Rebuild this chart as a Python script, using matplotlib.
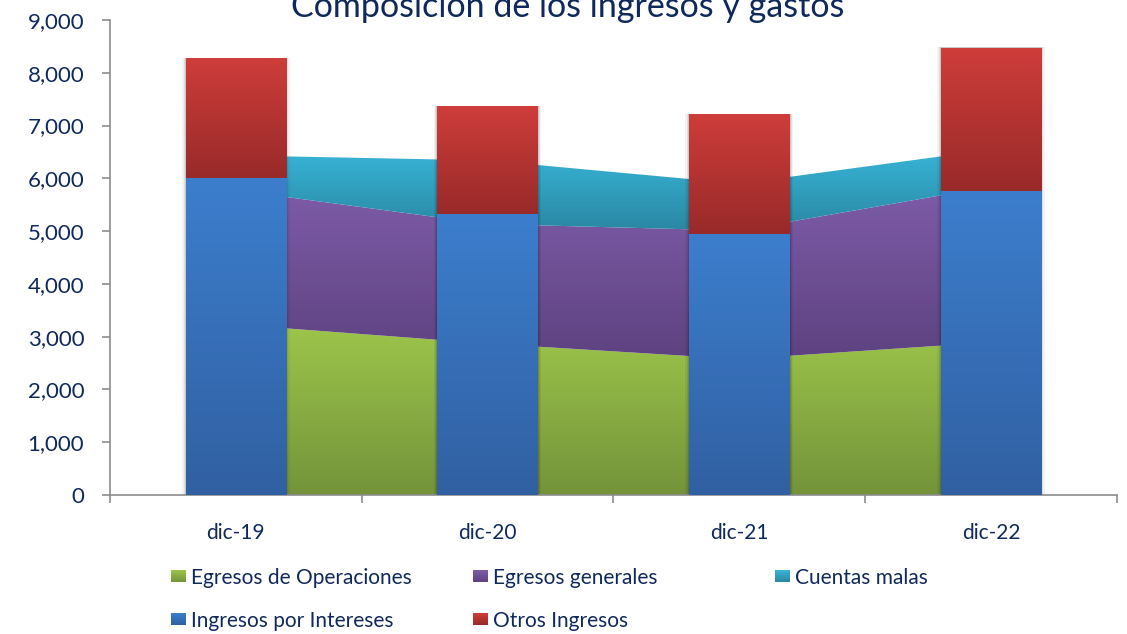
import numpy as np
import matplotlib
matplotlib.use("Agg")
import matplotlib.pyplot as plt
import matplotlib.colors as mcolors
from matplotlib.patches import Polygon, Rectangle
from matplotlib.ticker import FuncFormatter, FixedLocator

# -------------------- Data --------------------
periodos = ["dic-19", "dic-20", "dic-21", "dic-22"]

egresos_operaciones = [3230, 2870, 2575, 2895]
egresos_generales = [2545, 2265, 2435, 2950]
cuentas_malas = [660, 1205, 890, 700]

ingresos_intereses = [6005, 5320, 4940, 5770]
otros_ingresos = [2275, 2045, 2275, 2700]

titulo = "Composición de los ingresos y gastos"

# -------------------- Style --------------------
NAVY = "#10295C"
AXIS_GRAY = "#8C8C8C"
FONT = ["Lato", "DejaVu Sans"]

# (top colour, bottom colour) of each vertical gradient
C_EG_OP = ("#9DC64B", "#74933A")
C_EG_GEN = ("#7E5CA8", "#5D4280")
C_CUENTAS = ("#38B5D8", "#2A87A2")
C_INTERESES = ("#3C7ECD", "#3160A2")
C_OTROS = ("#CE3D3A", "#982A29")

plt.rcParams['font.family'] = FONT


def gradient(c_top, c_bot, n=256):
    top = np.array(mcolors.to_rgb(c_top))
    bot = np.array(mcolors.to_rgb(c_bot))
    t = np.linspace(0, 1, n)[:, None]
    return (top * (1 - t) + bot * t)[:, None, :]


def fill_grad(ax, patch, colors, z):
    """Fill a patch with a vertical gradient clipped to its outline."""
    patch.set_facecolor("none")
    patch.set_edgecolor("none")
    ax.add_patch(patch)
    if isinstance(patch, Polygon):
        verts = patch.get_path().vertices
        ext = [verts[:, 0].min(), verts[:, 0].max(), verts[:, 1].min(), verts[:, 1].max()]
    else:
        x0, y0 = patch.get_xy()
        ext = [x0, x0 + patch.get_width(), y0, y0 + patch.get_height()]
    im = ax.imshow(gradient(*colors), extent=ext, origin="upper", aspect="auto",
                   interpolation="bilinear", zorder=z)
    im.set_clip_path(patch)


fig = plt.figure(figsize=(11.27, 6.34), dpi=100)
ax = fig.add_axes([0.0976, 0.2192, 0.8935, 0.7492])

x = np.arange(len(periodos))

# -------------------- Stacked areas (gastos) --------------------
base = np.zeros(len(x))
for vals, cols in [(egresos_operaciones, C_EG_OP),
                   (egresos_generales, C_EG_GEN),
                   (cuentas_malas, C_CUENTAS)]:
    top = base + np.array(vals)
    verts = np.vstack([np.column_stack([x, top]),
                       np.column_stack([x[::-1], base[::-1]])])
    fill_grad(ax, Polygon(verts, closed=True), cols, 1)
    base = top

# -------------------- Stacked bars (ingresos) --------------------
width = 0.4
for i in x:
    bottom = 0
    # soft shadow
    for k, a in [(0.014, 0.05), (0.008, 0.08), (0.004, 0.10)]:
        ax.add_patch(Rectangle((i - width / 2 - k, 0), width + 2 * k,
                               ingresos_intereses[i] + otros_ingresos[i] + 10,
                               facecolor="black", alpha=a, edgecolor="none", zorder=2))
    for vals, cols in [(ingresos_intereses, C_INTERESES), (otros_ingresos, C_OTROS)]:
        fill_grad(ax, Rectangle((i - width / 2, bottom), width, vals[i]), cols, 3)
        bottom += vals[i]

# -------------------- Axes --------------------
ax.set_xlim(-0.5, len(x) - 0.5)
ax.set_ylim(0, 9000)
for s in ["top", "right"]:
    ax.spines[s].set_visible(False)
for s in ["left", "bottom"]:
    ax.spines[s].set_color(AXIS_GRAY)
    ax.spines[s].set_linewidth(1.2)

ax.set_yticks(np.arange(0, 9001, 1000))
ax.yaxis.set_major_formatter(FuncFormatter(lambda v, p: f"{int(v):,}"))
ax.tick_params(axis="y", direction="out", length=5.5, width=1.2, color=AXIS_GRAY,
               labelcolor=NAVY, labelsize=16, pad=13)

ax.xaxis.set_major_locator(FixedLocator(np.arange(-0.5, len(x), 1.0)))
ax.xaxis.set_minor_locator(FixedLocator(x))
ax.set_xticklabels([""] * (len(x) + 1))
ax.set_xticklabels(periodos, minor=True)
ax.tick_params(axis="x", which="major", direction="out", length=6, width=1.2, color=AXIS_GRAY)
ax.tick_params(axis="x", which="minor", length=0, labelcolor=NAVY, labelsize=15, pad=20)

# -------------------- Title --------------------
fig.text(0.504, 1 - 17 / 634, titulo, ha="center", va="baseline",
         fontsize=24.5, color=NAVY)

# -------------------- Legend (laid out by hand, Excel style) --------------------
W, H = 1127, 634
legend_items = [("Egresos de Operaciones", C_EG_OP, 171, 576),
                ("Egresos generales", C_EG_GEN, 473, 576),
                ("Cuentas malas", C_CUENTAS, 775, 576),
                ("Ingresos por Intereses", C_INTERESES, 171, 619),
                ("Otros Ingresos", C_OTROS, 473, 619)]
for label, cols, px, py in legend_items:
    sq = fig.add_axes([px / W, 1 - (py + 6) / H, 15 / W, 12 / H])
    sq.imshow(gradient(*cols), aspect="auto", extent=[0, 1, 0, 1])
    sq.axis("off")
    fig.text((px + 20) / W, 1 - py / H, label, ha="left", va="center_baseline",
             fontsize=15, color=NAVY)

fig.savefig("out.png", dpi=100)
